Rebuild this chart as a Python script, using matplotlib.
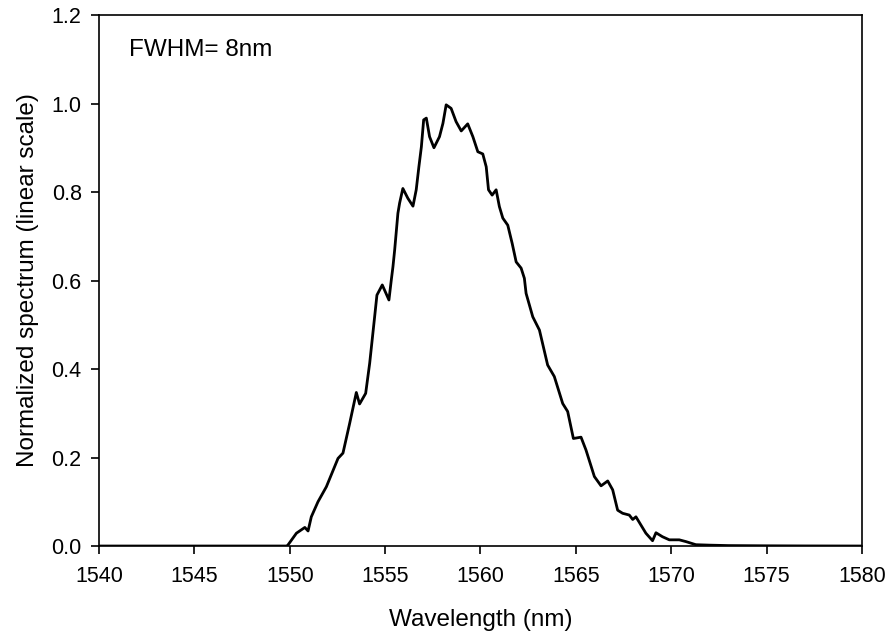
import numpy as np
import matplotlib.pyplot as plt

plt.rcParams['font.family'] = ['Liberation Sans', 'DejaVu Sans']

# measured spectrum (nm, normalized intensity)
wavelength = [
    1540.0, 1545.0, 1549.5, 1549.83, 1549.9, 1550.35, 1550.79, 1550.96, 1551.13,
    1551.48, 1551.92, 1552.53, 1552.79, 1553.14, 1553.49, 1553.66, 1553.98,
    1554.19, 1554.45, 1554.57, 1554.85, 1555.2, 1555.32, 1555.41, 1555.5,
    1555.67, 1555.76, 1555.93, 1556.19, 1556.46, 1556.63, 1556.77, 1556.9,
    1557.02, 1557.16, 1557.33, 1557.56, 1557.85, 1558.03, 1558.2, 1558.46,
    1558.72, 1558.99, 1559.33, 1559.6, 1559.86, 1560.12, 1560.3, 1560.42,
    1560.61, 1560.82, 1560.99, 1561.17, 1561.43, 1561.66, 1561.87, 1562.13,
    1562.3, 1562.39, 1562.74, 1563.09, 1563.52, 1563.87, 1564.31, 1564.57,
    1564.87, 1565.27, 1565.53, 1565.97, 1566.32, 1566.67, 1566.93, 1567.19,
    1567.45, 1567.8, 1567.98, 1568.15, 1568.67, 1569.02, 1569.2, 1569.54,
    1569.9, 1570.42, 1570.77, 1571.29, 1572.0, 1573.0, 1575.0, 1577.0, 1580.0,
]
intensity = [
    0.0, 0.0, 0.0, 0.0, 0.002, 0.029, 0.042, 0.034, 0.066,
    0.100, 0.134, 0.198, 0.210, 0.277, 0.347, 0.321, 0.345,
    0.413, 0.518, 0.567, 0.590, 0.556, 0.600, 0.631, 0.669,
    0.752, 0.775, 0.808, 0.786, 0.768, 0.805, 0.857, 0.902,
    0.963, 0.967, 0.925, 0.900, 0.925, 0.955, 0.997, 0.989,
    0.959, 0.938, 0.954, 0.925, 0.891, 0.886, 0.857, 0.805,
    0.793, 0.805, 0.767, 0.741, 0.725, 0.684, 0.642, 0.628,
    0.605, 0.571, 0.518, 0.488, 0.409, 0.383, 0.322, 0.304,
    0.243, 0.246, 0.217, 0.157, 0.136, 0.147, 0.127, 0.081,
    0.074, 0.070, 0.060, 0.066, 0.029, 0.012, 0.030, 0.021,
    0.014, 0.014, 0.010, 0.003, 0.002, 0.001, 0.0005, 0.0002, 0.0,
]

fig = plt.figure(figsize=(8.88, 6.33), dpi=100)
ax = fig.add_axes([0.1115, 0.1374, 0.8592, 0.8389])

ax.plot(wavelength, intensity, color='black', linewidth=2.0,
        solid_joinstyle='round', solid_capstyle='round')

ax.set_xlim(1540, 1580)
ax.set_ylim(0, 1.2)
ax.set_xticks(np.arange(1540, 1581, 5))
ax.set_yticks(np.arange(0, 1.21, 0.2))
ax.yaxis.set_major_formatter(plt.FormatStrFormatter('%.1f'))
ax.tick_params(direction='out', length=5.5, width=1.2, labelsize=15.5, pad=7)
ax.tick_params(axis='x', pad=9)
for s in ax.spines.values():
    s.set_linewidth(1.2)

ax.set_xlabel('Wavelength (nm)', fontsize=17.5, labelpad=16)
ax.set_ylabel('Normalized spectrum (linear scale)', fontsize=17.5, labelpad=9)
ax.text(1541.57, 1.12, 'FWHM= 8nm', fontsize=17.5, ha='left', va='center')

fig.savefig('out.png', dpi=100)
